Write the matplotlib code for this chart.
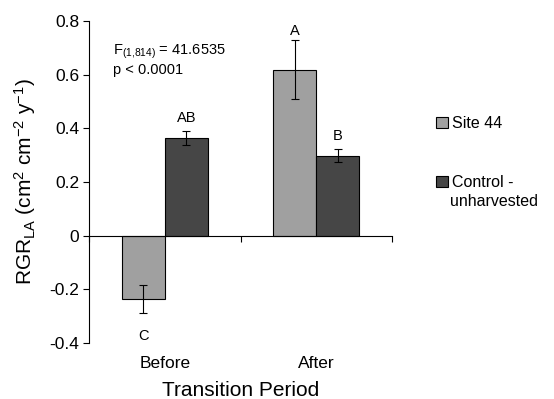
import matplotlib
matplotlib.use("Agg")
import matplotlib.pyplot as plt
from matplotlib.patches import Patch
import numpy as np

plt.rcParams['font.family'] = ['Liberation Sans', 'DejaVu Sans']
plt.rcParams['mathtext.default'] = 'regular'

categories = ["Before", "After"]
series_names = ["Site 44", "Control -", "unharvested"]
site44 = [-0.235, 0.619]
site44_err = [0.053, 0.110]
control = [0.364, 0.298]
control_err = [0.027, 0.025]
site44_letters = ["C", "A"]
control_letters = ["AB", "B"]
yticks = [-0.4, -0.2, 0, 0.2, 0.4, 0.6, 0.8]
ytick_labels = ["-0.4", "-0.2", "0", "0.2", "0.4", "0.6", "0.8"]

fig = plt.figure(figsize=(5.54, 3.99), dpi=100)
ax = fig.add_axes([89/554, 1-343/399, (392-89)/554, (343-21)/399])

x = np.arange(len(categories))
w = 0.285
c1, c2 = "#a0a0a0", "#464646"
b1 = ax.bar(x - w/2, site44, w, color=c1, edgecolor="black", linewidth=0.8, zorder=2)
b2 = ax.bar(x + w/2, control, w, color=c2, edgecolor="black", linewidth=0.8, zorder=2)
ax.errorbar(x - w/2, site44, yerr=site44_err, fmt="none", ecolor="black", elinewidth=0.8, capsize=3, capthick=0.8, zorder=3)
ax.errorbar(x + w/2, control, yerr=control_err, fmt="none", ecolor="black", elinewidth=0.8, capsize=3, capthick=0.8, zorder=3)

# letters
for i in range(len(categories)):
    v, e = site44[i], site44_err[i]
    if v >= 0:
        ax.text(x[i] - w/2, v + e + 0.035, site44_letters[i], ha="center", va="center", fontsize=10.5)
    else:
        ax.text(x[i] - w/2, v - e - 0.085, site44_letters[i], ha="center", va="center", fontsize=10.5)
    v, e = control[i], control_err[i]
    ax.text(x[i] + w/2, v + e + 0.047, control_letters[i], ha="center", va="center", fontsize=10.5)

ax.set_xlim(-0.5, 1.5)
ax.set_ylim(-0.4, 0.8)
ax.set_yticks(yticks)
ax.set_yticklabels(ytick_labels, fontsize=12.5)
ax.spines["top"].set_visible(False)
ax.spines["right"].set_visible(False)
ax.spines["bottom"].set_position(("data", 0))
ax.spines["bottom"].set_linewidth(0.8)
ax.spines["left"].set_linewidth(0.8)
ax.set_xticks([-0.5, 0.5, 1.5])
ax.set_xticklabels(["", "", ""])
ax.tick_params(axis="x", direction="out", length=4, width=0.8)
ax.tick_params(axis="y", direction="out", length=4, width=0.8, pad=3)

for i, c in enumerate(categories):
    ax.text(x[i], -0.475, c, ha="center", va="center", fontsize=12.5, clip_on=False)

fig.text(241/554, 1-391/399, "Transition Period", ha="center", va="center", fontsize=15)
ax.set_ylabel("RGR$_{LA}$ (cm$^2$ cm$^{-2}$ y$^{-1}$)", fontsize=15, labelpad=8)

ax.text(113/554, 1-52/399, "F$_{(1{,}814)}$ = 41.6535", transform=fig.transFigure, ha="left", va="center", fontsize=10.5)
ax.text(113/554, 1-70/399, "p < 0.0001", transform=fig.transFigure, ha="left", va="center", fontsize=10.5)

# legend (manual layout to keep the handle on the first line of the 2-line label)
h1 = Patch(facecolor=c1, edgecolor="black", linewidth=0.8)
h2 = Patch(facecolor=c2, edgecolor="black", linewidth=0.8)
fig.legend(handles=[h1, h2], labels=[series_names[0], series_names[1]], loc="upper left",
           bbox_to_anchor=(430/554, 1-110/399), frameon=False, fontsize=11.5,
           handlelength=0.7, handleheight=0.7, handletextpad=0.3, labelspacing=2.72,
           borderaxespad=0)
fig.text(450/554, 1-201/399, series_names[2], ha="left", va="center", fontsize=11.5)

fig.savefig("out.png", dpi=100)
